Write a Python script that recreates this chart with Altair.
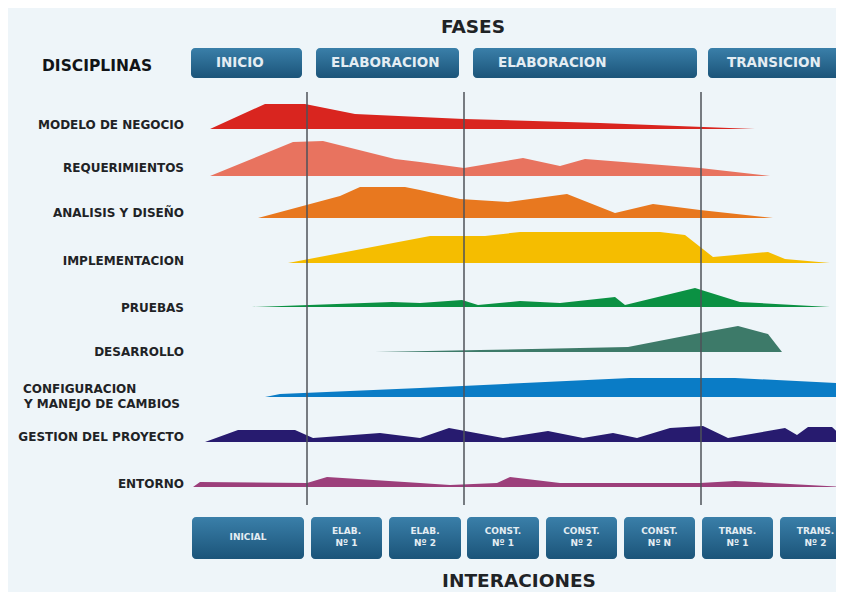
import altair as alt
import pandas as pd

# ---------------- data ----------------
disciplines = ["MODELO DE NEGOCIO", "REQUERIMIENTOS", "ANALISIS Y DISEÑO", "IMPLEMENTACION",
               "PRUEBAS", "DESARROLLO", "CONFIGURACION Y MANEJO DE CAMBIOS",
               "GESTION DEL PROYECTO", "ENTORNO"]
colors = ["#d9251f", "#e8735f", "#e8781f", "#f5bd00", "#0b9143", "#3d7a69", "#0a7cc6", "#271b6f", "#9c3f7b"]
baselines = [129, 176, 218, 263, 307, 352, 397, 442, 487]

# timeline position / effort pairs per discipline
t_modelo = [210, 265, 305, 355, 420, 464, 600, 755]
e_modelo = [0, 25, 25, 15, 12, 10, 6, 0]
t_req = [210, 293, 323, 395, 420, 464, 523, 560, 585, 700, 770]
e_req = [0, 34, 35, 17, 14, 8, 18, 10, 17, 8, 0]
t_anal = [258, 340, 360, 405, 420, 460, 508, 567, 615, 653, 700, 773]
e_anal = [0, 22, 31, 31, 28, 19, 16, 24, 5, 14, 8, 0]
t_impl = [288, 430, 485, 520, 660, 685, 713, 768, 785, 830]
e_impl = [0, 27, 27, 31, 31, 28, 6, 11, 4, 0]
t_prue = [252, 392, 420, 462, 478, 520, 560, 615, 625, 695, 740, 830]
e_prue = [0, 5, 4, 7, 2, 6, 4, 10, 2, 19, 5, 0]
t_desa = [375, 480, 628, 700, 738, 768, 782]
e_desa = [0, 2, 5, 19, 26, 18, 0]
t_conf = [265, 280, 420, 630, 735, 838, 844]
e_conf = [0, 3, 9, 19, 19, 14, 5]
t_gest = [205, 238, 295, 313, 380, 420, 449, 503, 548, 583, 613, 637, 670, 703, 728, 785, 797, 808, 832, 844]
e_gest = [0, 12, 12, 4, 9, 4, 14, 4, 11, 4, 9, 4, 14, 16, 4, 14, 7, 15, 15, 4]
t_ento = [193, 200, 307, 327, 420, 450, 497, 510, 560, 700, 735, 790, 844]
e_ento = [0, 5, 4, 10, 4, 2, 4, 10, 4, 4, 6, 3, 0]

series_t = [t_modelo, t_req, t_anal, t_impl, t_prue, t_desa, t_conf, t_gest, t_ento]
series_e = [e_modelo, e_req, e_anal, e_impl, e_prue, e_desa, e_conf, e_gest, e_ento]

phase_names = ["INICIO", "ELABORACION", "ELABORACION", "TRANSICION"]
phase_start = [191, 316, 473, 708]
phase_end = [302, 459, 697, 852]
phase_text_x = [216, 331, 498, 727]

iter_line1 = ["INICIAL", "ELAB.", "ELAB.", "CONST.", "CONST.", "CONST.", "TRANS.", "TRANS."]
iter_line2 = ["", "Nº 1", "Nº 2", "Nº 1", "Nº 2", "Nº N", "Nº 1", "Nº 2"]
iter_start = [192, 311, 389, 467, 546, 624, 702, 780]
iter_end = [304, 382, 461, 539, 617, 695, 773, 851]

phase_bounds = [307, 464, 701]

FONT = "DejaVu Sans"

# ---------------- frames ----------------
rows = []
for d, base, ts, es in zip(disciplines, baselines, series_t, series_e):
    for t, e in zip(ts, es):
        rows.append({"disc": d, "x": t, "top": base - e, "base": base})
areas_df = pd.DataFrame(rows)

X = lambda f="x": alt.X(f"{f}:Q", scale=alt.Scale(domain=[8, 836], nice=False, zero=False), axis=None)
Y = lambda f="y": alt.Y(f"{f}:Q", scale=alt.Scale(domain=[8, 592], reverse=True, nice=False, zero=False), axis=None)

areas = alt.Chart(areas_df).mark_area(interpolate="linear").encode(
    x=X("x"), y=Y("top"), y2="base:Q",
    color=alt.Color("disc:N", scale=alt.Scale(domain=disciplines, range=colors), legend=None),
)

rules_df = pd.DataFrame({"x": phase_bounds, "y": [92] * 3, "y2": [505] * 3})
rules = alt.Chart(rules_df).mark_rule(color="#4d5258", strokeWidth=2, opacity=0.75).encode(
    x=X("x"), y=Y("y"), y2="y2:Q")

grad = alt.LinearGradient(gradient="linear",
                          stops=[alt.GradientStop(color="#3a7fa9", offset=0),
                                 alt.GradientStop(color="#1b5479", offset=1)],
                          x1=0, x2=0, y1=0, y2=1)

phase_df = pd.DataFrame({"name": phase_names, "x": phase_start, "x2": phase_end,
                         "tx": phase_text_x, "y": [48] * 4, "y2": [78] * 4, "ty": [63] * 4})
phase_boxes = alt.Chart(phase_df).mark_rect(color=grad, cornerRadius=4).encode(
    x=X("x"), x2="x2:Q", y=Y("y"), y2="y2:Q")
phase_text = alt.Chart(phase_df).mark_text(align="left", baseline="middle", font=FONT,
                                           fontWeight="bold", fontSize=13.5, color="#e4edf3").encode(
    x=X("tx"), y=Y("ty"), text="name:N")

iter_df = pd.DataFrame({"l1": iter_line1, "l2": iter_line2, "x": iter_start, "x2": iter_end,
                        "y": [517] * 8, "y2": [559] * 8})
iter_df["cx"] = (iter_df["x"] + iter_df["x2"]) / 2
iter_df["ty1"] = [537] + [531] * 7
iter_df["ty2"] = [543] * 8
iter_boxes = alt.Chart(iter_df).mark_rect(color=grad, cornerRadius=4).encode(
    x=X("x"), x2="x2:Q", y=Y("y"), y2="y2:Q")
iter_t1 = alt.Chart(iter_df).mark_text(align="center", baseline="middle", font=FONT,
                                       fontWeight="bold", fontSize=9, color="#e4edf3").encode(
    x=X("cx"), y=Y("ty1"), text="l1:N")
iter_t2 = alt.Chart(iter_df).mark_text(align="center", baseline="middle", font=FONT,
                                       fontWeight="bold", fontSize=9, color="#e4edf3").encode(
    x=X("cx"), y=Y("ty2"), text="l2:N")

label_right = pd.DataFrame({
    "t": ["MODELO DE NEGOCIO", "REQUERIMIENTOS", "ANALISIS Y DISEÑO", "IMPLEMENTACION",
          "PRUEBAS", "DESARROLLO", "GESTION DEL PROYECTO", "ENTORNO"],
    "x": [184] * 8,
    "y": [125, 168, 213, 261, 308, 352, 437, 484]})
label_left = pd.DataFrame({"t": ["CONFIGURACION", "Y MANEJO DE CAMBIOS"], "x": [23, 24], "y": [388.5, 404]})
lab_r = alt.Chart(label_right).mark_text(align="right", baseline="middle", font=FONT,
                                         fontWeight="bold", fontSize=12, color="#1f2326").encode(
    x=X("x"), y=Y("y"), text="t:N")
lab_l = alt.Chart(label_left).mark_text(align="left", baseline="middle", font=FONT,
                                        fontWeight="bold", fontSize=12, color="#1f2326").encode(
    x=X("x"), y=Y("y"), text="t:N")

titles_df = pd.DataFrame({"t": ["FASES", "INTERACIONES"], "x": [473, 519], "y": [27, 581]})
titles = alt.Chart(titles_df).mark_text(align="center", baseline="middle", font=FONT,
                                        fontWeight="bold", fontSize=18.5, color="#1f2326").encode(
    x=X("x"), y=Y("y"), text="t:N")
disc_df = pd.DataFrame({"t": ["DISCIPLINAS"], "x": [42], "y": [66]})
disc_title = alt.Chart(disc_df).mark_text(align="left", baseline="middle", font=FONT,
                                          fontWeight="bold", fontSize=15.5, color="#111417").encode(
    x=X("x"), y=Y("y"), text="t:N")

chart = alt.layer(areas, rules, phase_boxes, phase_text, iter_boxes, iter_t1, iter_t2,
                  lab_r, lab_l, titles, disc_title).properties(
    width=828, height=584, background="#eef5f9", padding=0,
    autosize=alt.AutoSizeParams(type="none")
).configure_view(strokeWidth=0)

chart.save("out.html", embed_options={"renderer": "svg", "actions": False})
